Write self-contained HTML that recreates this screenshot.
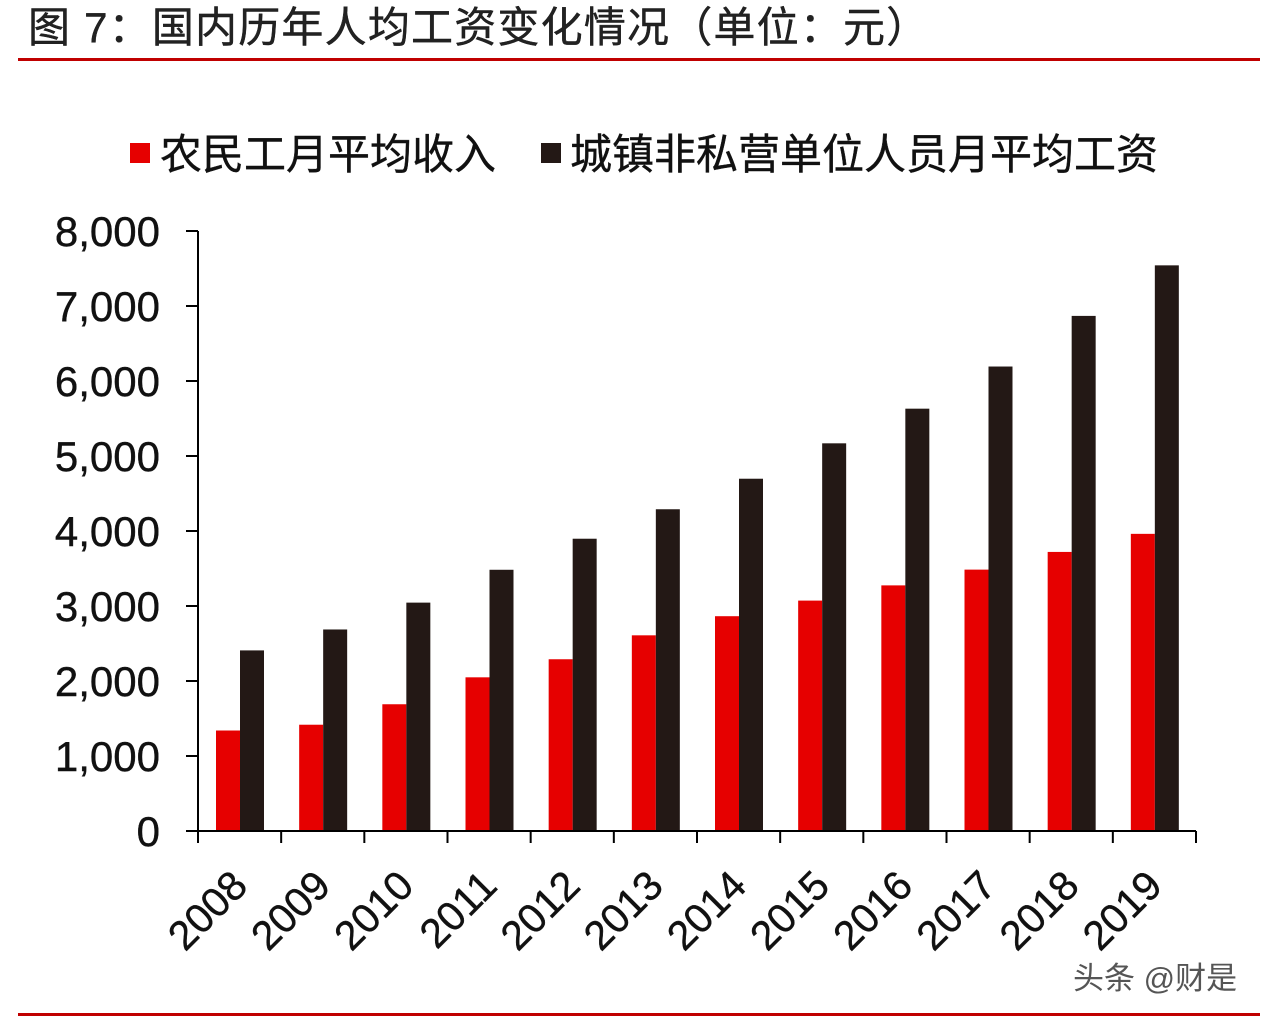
<!DOCTYPE html>
<html><head><meta charset="utf-8">
<style>
body{margin:0;width:1270px;height:1024px;background:#fff;overflow:hidden;font-family:"Liberation Sans","Noto Sans CJK SC",sans-serif;}
#root{position:relative;width:1270px;height:1024px;}
text{stroke:#111;stroke-width:0.4px;}
</style></head>
<body><div id="root">
<svg id="chart" width="1270" height="1024" xmlns="http://www.w3.org/2000/svg">
<text x="28" y="42" font-size="42" letter-spacing="1.2" fill="#222" font-family="Liberation Sans, Noto Sans CJK SC, sans-serif">图 7：国内历年人均工资变化情况（单位：元）</text>
<rect x="18" y="58" width="1242" height="3" fill="#c00000"/>
<rect x="18" y="1013" width="1242" height="3" fill="#c00000"/>
<rect x="130" y="143" width="20" height="20" fill="#e60000"/>
<text x="160" y="169" font-size="42" fill="#111" font-family="Liberation Sans, Noto Sans CJK SC, sans-serif">农民工月平均收入</text>
<rect x="541" y="143" width="20" height="20" fill="#231815"/>
<text x="570" y="169" font-size="42" fill="#111" font-family="Liberation Sans, Noto Sans CJK SC, sans-serif">城镇非私营单位人员月平均工资</text>
<text x="1073" y="989" font-size="31" fill="#555" style="stroke:none" font-family="Liberation Sans, Noto Sans CJK SC, sans-serif">头条 @财是</text>
<g id="plot"></g>
</svg>
<script>
const categories=["2008","2009","2010","2011","2012","2013","2014","2015","2016","2017","2018","2019"];
const migrant=[1340,1417,1690,2049,2290,2609,2864,3072,3275,3485,3721,3962];
const urban=[2408,2687,3045,3483,3897,4290,4697,5169,5631,6193,6868,7542];
const yTicks=[0,1000,2000,3000,4000,5000,6000,7000,8000];
const yTickLabels=["0","1,000","2,000","3,000","4,000","5,000","6,000","7,000","8,000"];
const NS="http://www.w3.org/2000/svg";
const g=document.getElementById('plot');
const x0=198,x1=1196,y0=831,y1=231,yMax=8000;
const cw=(x1-x0)/categories.length;
function y(v){return y0-(v/yMax)*(y0-y1);}
function xc(i){return x0+i*cw;}
function mk(tag,attrs){const e=document.createElementNS(NS,tag);for(const k in attrs)e.setAttribute(k,attrs[k]);g.appendChild(e);return e;}
yTicks.forEach((t,i)=>{
 const l=mk('line',{x1:186,x2:x0,y1:y(t),y2:y(t),stroke:'#000','stroke-width':2});
 
 
 const tx=mk('text',{x:160,y:y(t)+15,'text-anchor':'end','font-size':42,fill:'#111'});
 tx.textContent=yTickLabels[i];
 
 
});
categories.forEach((c,i)=>{
 const r=mk('rect',{x:xc(i)+18,y:y(migrant[i]),width:24,height:y0-y(migrant[i]),fill:'#e60000'});
 
 
 const b=mk('rect',{x:xc(i)+42,y:y(urban[i]),width:24,height:y0-y(urban[i]),fill:'#231815'});
 
 
 const lx=xc(i)+cw/2+10, ly=888;
 const t=mk('text',{x:lx,y:ly,'text-anchor':'end','font-size':41,fill:'#111',transform:`rotate(-45 ${lx} ${ly})`});
 t.textContent=c;
 
 
});
for(let i=0;i<=categories.length;i++){
 const tk=mk('line',{x1:xc(i),x2:xc(i),y1:y0,y2:y0+12,stroke:'#000','stroke-width':2});
 
 
}
const ya=mk('line',{x1:x0,x2:x0,y1:y1,y2:y0,stroke:'#000','stroke-width':2});


const xa=mk('line',{x1:x0,x2:x1,y1:y0,y2:y0,stroke:'#000','stroke-width':2});


</script>
</div></body></html>
